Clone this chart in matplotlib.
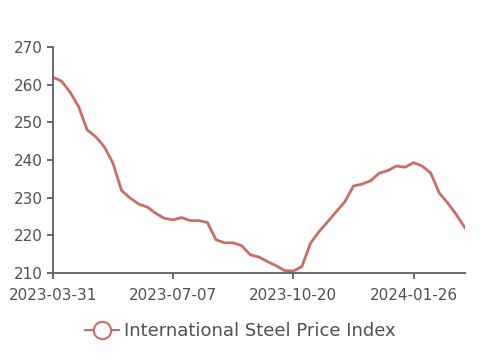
import pandas as pd
import numpy as np
import matplotlib
matplotlib.use('Agg')
import matplotlib.pyplot as plt

# Weekly index values (week of 2023-10-06 is not in the data)
dates = [d for d in pd.date_range('2023-03-31', periods=50, freq='7D').strftime('%Y-%m-%d')
         if d != '2023-10-06']
values = [262.0, 261.0, 258.1, 254.2, 248.0, 246.2, 243.5, 239.2, 231.9, 229.9,
          228.3, 227.5, 225.8, 224.5, 224.1, 224.7, 223.9, 223.9, 223.4, 218.8,
          218.0, 218.0, 217.2, 214.8, 214.2, 213.0, 211.9, 210.6, 210.5, 211.7,
          217.9, 221.0, 223.6, 226.3, 228.9, 233.1, 233.6, 234.5, 236.5, 237.2,
          238.4, 238.1, 239.3, 238.4, 236.5, 231.2, 228.5, 225.4, 221.9]
seriesName = 'International Steel Price Index'
yTicks = [210, 220, 230, 240, 250, 260, 270]

lineColor = '#cc6c66'
axisColor = '#5f6068'
textColor = '#505050'

fig = plt.figure(figsize=(4.8, 3.6), dpi=100)
ax = fig.add_axes([0.110, 0.242, 0.859, 0.627])

x = np.arange(len(dates))
ax.plot(x, values, color=lineColor, linewidth=2, solid_capstyle='round', solid_joinstyle='round')

ax.set_xlim(0, len(dates) - 1)
ax.set_ylim(210, 270)
ax.set_yticks(yTicks)
tickIdx = list(range(0, len(dates), 14))
ax.set_xticks(tickIdx)
ax.set_xticklabels([dates[i] for i in tickIdx])

for side in ['top', 'right']:
    ax.spines[side].set_visible(False)
for side in ['left', 'bottom']:
    ax.spines[side].set_color(axisColor)
    ax.spines[side].set_linewidth(1.3)
ax.tick_params(axis='both', colors=axisColor, labelcolor=textColor, labelsize=11, length=4, width=1.3)
ax.tick_params(axis='x', pad=7)
ax.tick_params(axis='y', pad=3)

handle = plt.Line2D([], [], color=lineColor, linewidth=1.5, marker='o', markersize=12.5,
                    markerfacecolor='white', markeredgecolor=lineColor, markeredgewidth=1.5)
fig.legend([handle], [seriesName], loc='center', bbox_to_anchor=(0.5, 1 - 331 / 360),
           frameon=False, fontsize=13, labelcolor=textColor, handlelength=1.9, handletextpad=0.25)

fig.savefig('out.png', dpi=100)
